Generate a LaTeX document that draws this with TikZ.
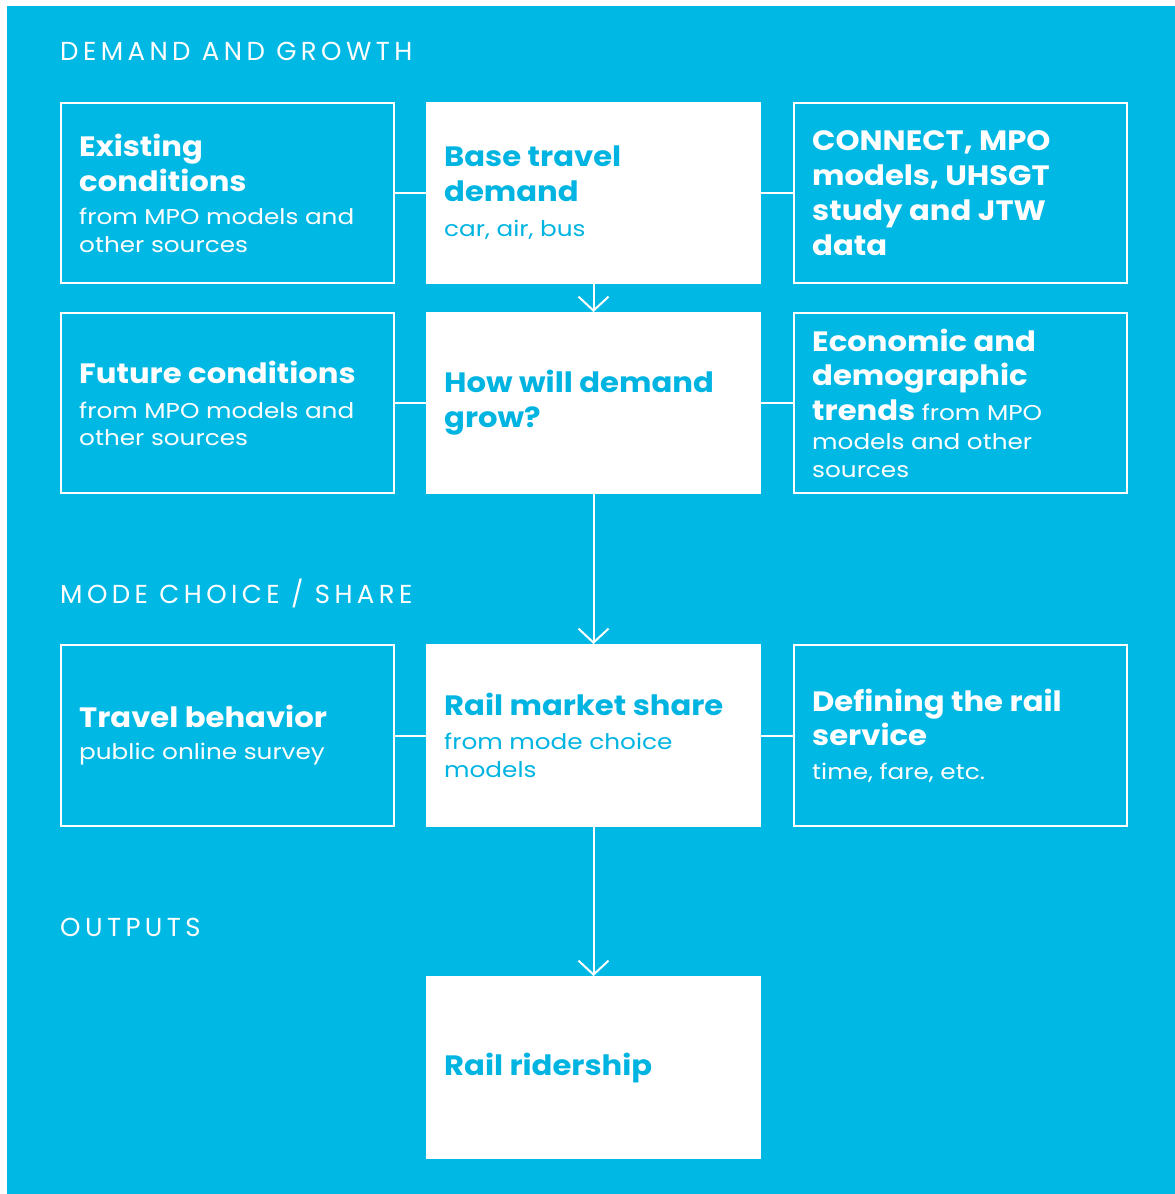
\documentclass[tikz,border=0pt]{standalone}
\usepackage{fontspec}
\setmainfont{Poppins}[FakeStretch=1.095]
\newfontfamily\subfam{Poppins}[FakeStretch=1.15]
\newfontfamily\hdfont{Poppins}[LetterSpace=17]
\usetikzlibrary{arrows.meta}
\definecolor{bg}{HTML}{00B8E4}
\definecolor{tb}{HTML}{00B4E2}
\newcommand\subf{\subfam\fontsize{21.5}{28}\selectfont\mdseries}
\begin{document}
\begin{tikzpicture}[x=1pt,y=-1pt,
  box/.style={draw=white, line width=2pt, minimum width=333pt, minimum height=180pt, inner sep=0pt, anchor=north west},
  wbox/.style={box, fill=white},
  btext/.style={font=\fontsize{28}{35}\selectfont\bfseries, align=left, anchor=west, inner sep=0pt, text=white},
  wtext/.style={btext, text=tb},
  head/.style={font=\hdfont\fontsize{26}{28}\selectfont, anchor=base west, inner sep=0pt, text=white},
  link/.style={draw=white, line width=2pt},
  flow/.style={draw=white, line width=2pt, -{Straight Barb[length=14pt, width=30pt, line width=2pt]}}
]
\useasboundingbox (0,0) rectangle (1175,1194);
\fill[white] (0,0) rectangle (1175,1194);
\fill[bg] (7,6) rectangle (1175,1194);

\node[head] (h1) at (60,60) {DEMAND AND GROWTH};
\node[head] (h2) at (60,603) {MODE CHOICE / SHARE};
\node[head] (h3) at (60,936) {OUTPUTS};

\node[box]  (l1) at (60,102) {};
\node[wbox] (m1) at (426,102) {};
\node[box]  (r1) at (793,102) {};
\node[box]  (l2) at (60,312) {};
\node[wbox] (m2) at (426,312) {};
\node[box]  (r2) at (793,312) {};
\node[box, minimum height=181pt]  (l3) at (60,644) {};
\node[wbox, minimum height=181pt] (m3) at (426,644) {};
\node[box, minimum height=181pt]  (r3) at (793,644) {};
\node[wbox, minimum height=181pt] (m4) at (426,976) {};

\node[btext] (l1t) at ([xshift=19pt]l1.west) {Existing\\conditions\\[-2pt]{\subf from MPO models and}\\[-7pt]{\subf other sources}};
\node[wtext] (m1t) at ([xshift=18pt]m1.west) {Base travel\\demand\\{\subf car, air, bus}};
\node[btext] (r1t) at ([xshift=19pt]r1.west) {CONNECT, MPO\\models, UHSGT\\study and JTW\\data};

\node[btext] (l2t) at ([xshift=19pt]l2.west) {Future conditions\\{\subf from MPO models and}\\[-8pt]{\subf other sources}};
\node[wtext] (m2t) at ([xshift=18pt]m2.west) {How will demand\\grow?};
\node[btext] (r2t) at ([xshift=19pt]r2.west) {Economic and\\[-1pt]demographic\\trends {\subf from MPO}\\[-6pt]{\subf models and other}\\[-7pt]{\subf sources}};

\node[btext] (l3t) at ([xshift=19pt]l3.west) {Travel behavior\\[-3pt]{\subf public online survey}};
\node[wtext] (m3t) at ([xshift=18pt]m3.west) {Rail market share\\[-1pt]{\subf from mode choice}\\[-7pt]{\subf models}};
\node[btext] (r3t) at ([xshift=19pt]r3.west) {Defining the rail\\[-1pt]service\\[-1pt]{\subf time, fare, etc.}};

\node[wtext] (m4t) at ([xshift=18pt]m4.west) {Rail ridership};

\draw[link] (l1.east) -- (m1.west);
\draw[link] (m1.east) -- (r1.west);
\draw[link] (l2.east) -- (m2.west);
\draw[link] (m2.east) -- (r2.west);
\draw[link] (l3.east) -- (m3.west);
\draw[link] (m3.east) -- (r3.west);

\draw[flow] (m1.south) -- (m2.north);
\draw[flow] (m2.south) -- (m3.north);
\draw[flow] (m3.south) -- (m4.north);
\end{tikzpicture}
\end{document}
